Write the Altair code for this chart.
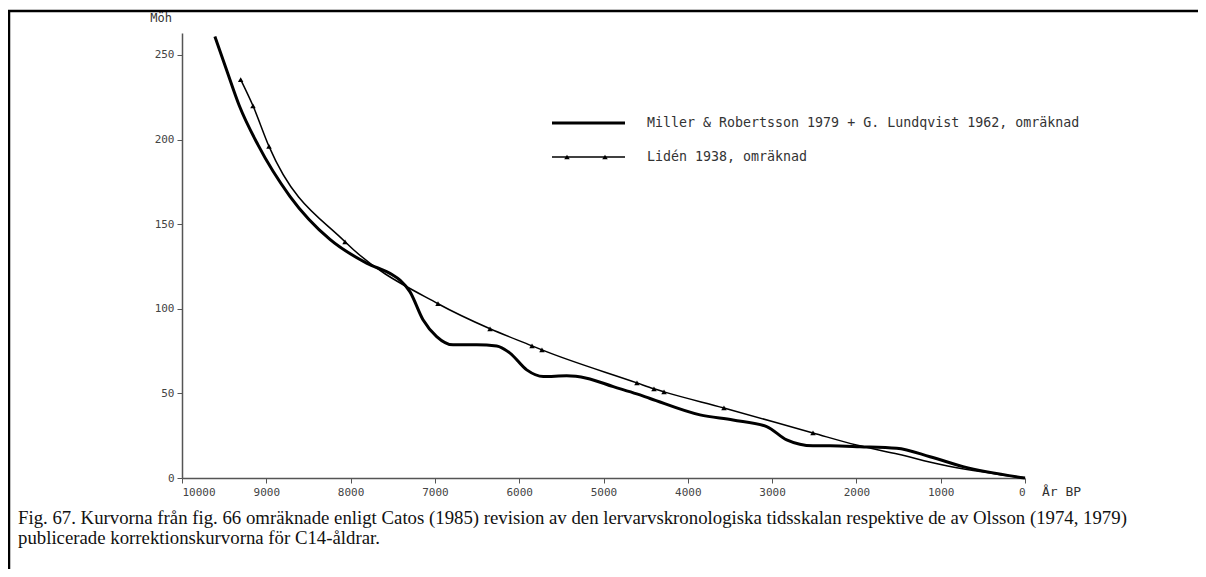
import altair as alt
import pandas as pd

# Miller & Robertsson 1979 + G. Lundqvist 1962, omräknad (thick curve)
miller_year = [9610, 9470, 9320, 9100, 8720, 8245, 7810, 7500, 7414, 7295, 7141, 6979, 6785, 6504,
               6267, 6109, 5911, 5714, 5437, 5200, 4884, 4606, 4448, 3855, 3464, 3064, 2827,
               2515, 2313, 1957, 1522, 1127, 735, 0]
miller_val = [261, 241, 220, 197, 166.5, 141, 127, 120, 117, 110, 93.5, 83.6, 78.7, 78.7,
              78, 73.8, 63.9, 60, 60.4, 59, 54, 49.7, 47, 37.3, 34.3, 30.4, 22.5,
              19, 19, 18.5, 17.6, 12.6, 6.7, 0]

# Lidén 1938, omräknad (thin line with triangles)
liden_year = [9304, 9158, 8968, 8066, 6963, 6346, 5848, 5730, 4603, 4401, 4282, 3571, 2515, 2000, 1500, 1000, 0]
liden_val = [235.5, 220, 196, 139.6, 103, 88.2, 78.1, 75.7, 56.2, 52.7, 50.9, 41.4, 26.6, 19.5, 14, 8, 0]
liden_marked = [True, True, True, True, True, True, True, True, True, True, True, True, True,
                False, False, False, False]

x_ticks = [10000, 9000, 8000, 7000, 6000, 5000, 4000, 3000, 2000, 1000, 0]
y_ticks = [0, 50, 100, 150, 200, 250]

legend_labels = ["Miller & Robertsson 1979 + G. Lundqvist 1962, omräknad", "Lidén 1938, omräknad"]
caption_lines = [
    "Fig. 67. Kurvorna från fig. 66 omräknade enligt Catos (1985) revision av den lervarvskronologiska tidsskalan respektive de av Olsson (1974, 1979)",
    "publicerade korrektionskurvorna för C14-åldrar.",
]

W, H = 843, 445
PL, PT = 174, 25

miller = pd.DataFrame({"year": miller_year, "val": miller_val, "order": range(len(miller_year))})
liden = pd.DataFrame({"year": liden_year, "val": liden_val, "marked": liden_marked, "order": range(len(liden_year))})

FONT = "DejaVu Sans Mono"
GREY = "#555555"

xscale = alt.Scale(domain=[10000, 0], nice=False, zero=False)
yscale = alt.Scale(domain=[0, 263], nice=False, zero=False)

base_x = alt.X("year:Q", scale=xscale, axis=alt.Axis(values=x_ticks, title=None, grid=False, format="d",
                                                     domainColor=GREY, domainWidth=1.5, tickColor=GREY,
                                                     tickSize=5, labelColor="#444", labelFont=FONT,
                                                     labelFontSize=11, labelPadding=3))
base_y = alt.Y("val:Q", scale=yscale, axis=alt.Axis(values=y_ticks, title=None, grid=False,
                                                    domainColor=GREY, domainWidth=1.5, tickColor=GREY,
                                                    tickSize=5, labelColor="#444", labelFont=FONT,
                                                    labelFontSize=11, labelPadding=3))

miller_line = alt.Chart(miller).mark_line(color="black", strokeWidth=3, interpolate="monotone").encode(
    x=base_x, y=base_y, order="order:Q")
liden_line = alt.Chart(liden).mark_line(color="black", strokeWidth=1.5, interpolate="monotone").encode(
    x=alt.X("year:Q", scale=xscale), y=alt.Y("val:Q", scale=yscale), order="order:Q")
liden_pts = alt.Chart(liden).transform_filter("datum.marked").mark_point(
    shape="triangle-up", filled=True, color="black", size=30, opacity=1).encode(
    x=alt.X("year:Q", scale=xscale), y=alt.Y("val:Q", scale=yscale))

# Legend (manual)
leg1 = alt.Chart(pd.DataFrame({"t": [legend_labels[0]]})).mark_rule(color="black", strokeWidth=3).encode(
    x=alt.value(370), x2=alt.value(443), y=alt.value(90))
leg2 = alt.Chart(pd.DataFrame({"t": [legend_labels[1]]})).mark_rule(color="black", strokeWidth=1.5).encode(
    x=alt.value(370), x2=alt.value(443), y=alt.value(124))
leg2p = alt.Chart(pd.DataFrame({"px": [385, 423]})).mark_point(
    shape="triangle-up", filled=True, color="black", size=30, opacity=1).encode(
    x=alt.X("px:Q", scale=None), y=alt.value(124))
legt = alt.Chart(pd.DataFrame({"t": legend_labels, "py": [90, 124]})).mark_text(
    align="left", baseline="middle", font=FONT, fontSize=13.3, color="#333").encode(
    x=alt.value(465), y=alt.Y("py:Q", scale=None), text="t:N")

# Axis titles
moh = alt.Chart(pd.DataFrame({"t": ["Möh"]})).mark_text(
    align="right", baseline="middle", font=FONT, fontSize=12, color="#333").encode(
    x=alt.value(-10), y=alt.value(-15), text="t:N")
arbp = alt.Chart(pd.DataFrame({"t": ["År BP"]})).mark_text(
    align="left", baseline="middle", font=FONT, fontSize=13, color="#333").encode(
    x=alt.value(W + 17), y=alt.value(H + 14), text="t:N")

# Caption
cap = alt.Chart(pd.DataFrame({"t": caption_lines, "py": [485, 505]})).mark_text(
    align="left", baseline="middle", font="Liberation Serif", fontSize=18.8, color="#111").encode(
    x=alt.value(-164), y=alt.Y("py:Q", scale=None), text="t:N")

# Frame lines (top and left borders)
frame_top = alt.Chart(pd.DataFrame({"a": [0]})).mark_rule(color="black", strokeWidth=2.5).encode(
    x=alt.value(-174), x2=alt.value(1030), y=alt.value(-22))
frame_left = alt.Chart(pd.DataFrame({"a": [0]})).mark_rule(color="black", strokeWidth=2.5).encode(
    x=alt.value(-173), y=alt.value(-23), y2=alt.value(560))

chart = alt.layer(miller_line, liden_line, liden_pts, leg1, leg2, leg2p, legt, moh, arbp, cap,
                  frame_top, frame_left).properties(
    width=W, height=H,
    background="white",
    autosize=alt.AutoSizeParams(type="none"),
    padding={"left": PL, "top": PT, "right": 1190 - PL - W, "bottom": 561 - PT - H},
).configure_view(strokeWidth=0, strokeOpacity=0)

chart.save("out.html", embed_options={"renderer": "svg", "actions": False})
